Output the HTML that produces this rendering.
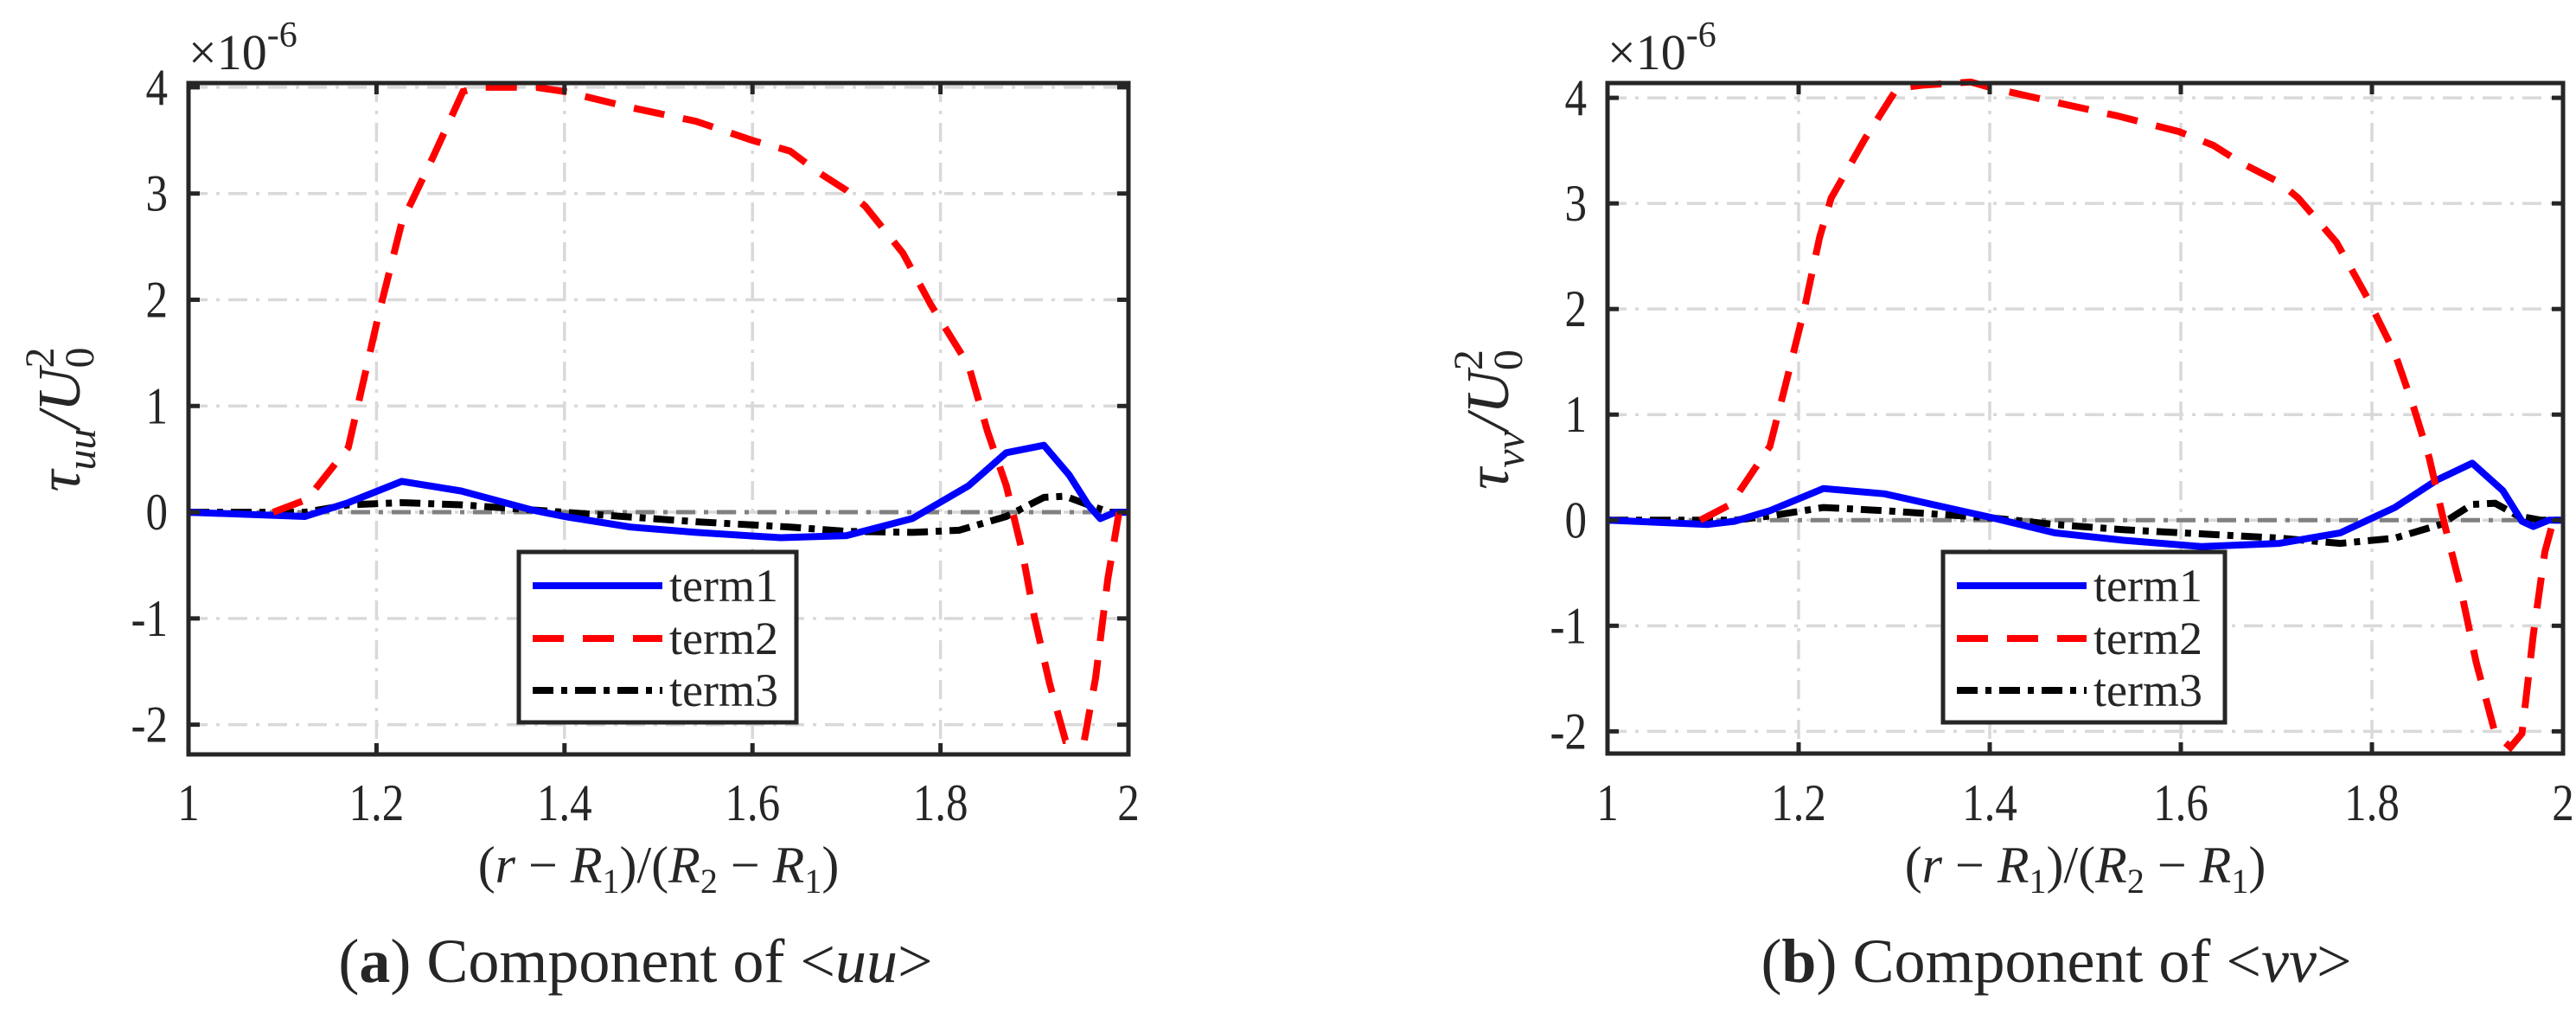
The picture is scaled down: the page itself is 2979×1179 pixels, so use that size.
<!DOCTYPE html>
<html><head><meta charset="utf-8">
<style>
html,body{margin:0;padding:0;background:#fff;}
svg{display:block;}
text{font-family:"Liberation Serif",serif;fill:#262626;}
</style></head>
<body>
<svg id="fig" width="2979" height="1179" viewBox="0 0 2979 1179" xmlns="http://www.w3.org/2000/svg"></svg>
<script>
const xTicks=[1,1.2,1.4,1.6,1.8,2];
const xTickLabels=["1","1.2","1.4","1.6","1.8","2"];
const yTicks=[-2,-1,0,1,2,3,4];
const yTickLabels=["-2","-1","0","1","2","3","4"];
const legendLabels=["term1","term2","term3"];

const aT1x=[1.0,1.124,1.17,1.227,1.29,1.366,1.40,1.47,1.54,1.63,1.70,1.77,1.83,1.87,1.91,1.937,1.957,1.97,1.986,2.0];
const aT1y=[0,-0.04,0.09,0.29,0.2,0.02,-0.04,-0.14,-0.19,-0.24,-0.22,-0.06,0.25,0.56,0.63,0.35,0.07,-0.06,0,0];
const aT2x=[1.09,1.126,1.17,1.202,1.227,1.26,1.292,1.31,1.37,1.40,1.47,1.54,1.60,1.64,1.67,1.70,1.72,1.76,1.79,1.83,1.85,1.87,1.887,1.90,1.916,1.933,1.953,1.965,1.978,1.99];
const aT2y=[0,0.12,0.61,1.85,2.73,3.34,3.96,4.0,4.0,3.96,3.81,3.68,3.5,3.4,3.2,3.03,2.88,2.44,1.95,1.38,0.76,0.25,-0.37,-0.99,-1.61,-2.15,-2.15,-1.56,-0.63,0];
const aT3x=[1,1.124,1.17,1.227,1.29,1.40,1.54,1.64,1.70,1.77,1.82,1.87,1.91,1.933,1.957,1.98,2];
const aT3y=[0,0,0.07,0.09,0.07,0,-0.09,-0.14,-0.18,-0.19,-0.17,-0.04,0.14,0.15,0.07,0,0];

const bT1x=[1,1.105,1.133,1.17,1.226,1.29,1.404,1.468,1.54,1.622,1.703,1.767,1.824,1.868,1.905,1.937,1.957,1.969,1.985,2];
const bT1y=[0,-0.04,-0.01,0.09,0.3,0.25,0.02,-0.12,-0.19,-0.25,-0.22,-0.12,0.12,0.38,0.54,0.28,-0.01,-0.06,0,0];
const bT2x=[1.097,1.129,1.17,1.186,1.206,1.222,1.234,1.27,1.303,1.33,1.38,1.404,1.468,1.533,1.598,1.634,1.662,1.703,1.723,1.763,1.795,1.824,1.844,1.86,1.876,1.892,1.909,1.929,1.945,1.957,1.969,1.981,1.99];
const bT2y=[0,0.15,0.7,1.27,2.0,2.68,3.05,3.62,4.09,4.12,4.15,4.09,3.96,3.83,3.68,3.55,3.39,3.2,3.05,2.63,2.11,1.58,1.06,0.59,-0.04,-0.61,-1.34,-2.02,-2.15,-2.02,-1.08,-0.3,0];
const bT3x=[1,1.133,1.17,1.226,1.29,1.404,1.468,1.54,1.622,1.703,1.767,1.824,1.872,1.905,1.929,1.953,1.977,2];
const bT3y=[0,0,0.04,0.12,0.09,0.02,-0.04,-0.09,-0.13,-0.17,-0.22,-0.17,-0.04,0.15,0.16,0.04,0,0];

const NS="http://www.w3.org/2000/svg";
const svg=document.getElementById('fig');
function mk(tag,attrs,parent){const e=document.createElementNS(NS,tag);for(const k in attrs)e.setAttribute(k,attrs[k]);(parent||svg).appendChild(e);return e;}

function panel(cfg){
  const g=mk('g',{});
  
  
  const L=cfg.L,R=cfg.R,T=cfg.T,B=cfg.B;
  const sx=v=>L+(v-1)*(R-L);
  const sy=v=>T+(cfg.ymax-v)/(cfg.ymax-cfg.ymin)*(B-T);
  xTicks.forEach((t,i)=>{
    if(i>0&&i<xTicks.length-1){
      const l=mk('line',{x1:sx(t),x2:sx(t),y1:T,y2:B,stroke:'#d9d9d9','stroke-width':3.5,'stroke-dasharray':'22 10 4 10'},g);
      
      
    }
  });
  yTicks.forEach(t=>{
    const l=mk('line',{x1:L,x2:R,y1:sy(t),y2:sy(t),stroke:'#d9d9d9','stroke-width':3.5,'stroke-dasharray':'22 10 4 10'},g);
    
    
  });
  const z=mk('line',{x1:L,x2:R,y1:sy(0),y2:sy(0),stroke:'#808080','stroke-width':5,'stroke-dasharray':'22 10 5 10'},g);
  
  
  const path=(xs,ys)=>xs.map((x,i)=>(i?'L':'M')+sx(x).toFixed(1)+','+sy(ys[i]).toFixed(1)).join('');
  const s3=mk('path',{d:path(cfg.t3x,cfg.t3y),fill:'none',stroke:'#000','stroke-width':8,'stroke-dasharray':'24 9 7 9'},g);
  
  
  const s1=mk('path',{d:path(cfg.t1x,cfg.t1y),fill:'none',stroke:'#0000ff','stroke-width':8,'stroke-linejoin':'round'},g);
  
  
  const s2=mk('path',{d:path(cfg.t2x,cfg.t2y),fill:'none',stroke:'#ff0000','stroke-width':8,'stroke-dasharray':'36 22'},g);
  
  
  xTicks.forEach((t,i)=>{
    mk('line',{x1:sx(t),x2:sx(t),y1:B,y2:B-13,stroke:'#262626','stroke-width':5},g);
    mk('line',{x1:sx(t),x2:sx(t),y1:T,y2:T+13,stroke:'#262626','stroke-width':5},g);
    const tx=mk('text',{transform:`translate(${sx(t)},948) scale(0.85,1)`,'font-size':60,'text-anchor':'middle'},g);
    tx.textContent=xTickLabels[i];
    
    
  });
  yTicks.forEach((t,i)=>{
    mk('line',{x1:L,x2:L+13,y1:sy(t),y2:sy(t),stroke:'#262626','stroke-width':5},g);
    mk('line',{x1:R,x2:R-13,y1:sy(t),y2:sy(t),stroke:'#262626','stroke-width':5},g);
    const tx=mk('text',{transform:`translate(${L-24},${sy(t)+20}) scale(0.85,1)`,'font-size':60,'text-anchor':'end'},g);
    tx.textContent=yTickLabels[i];
    
    
  });
  const box=mk('rect',{x:L,y:T,width:R-L,height:B-T,fill:'none',stroke:'#262626','stroke-width':5},g);
  
  
  const ex=mk('text',{x:L,y:80,'font-size':58},g);
  ex.innerHTML='×10<tspan dy="-26" font-size="42">-6</tspan>';
  
  
  const yl=mk('text',{transform:`translate(${cfg.ylx},485) rotate(-90)`,'font-size':70,'text-anchor':'middle','font-style':'italic'},g);
  yl.innerHTML=`τ<tspan dy="18" font-size="48">${cfg.sub}</tspan><tspan dy="-18">/U</tspan><tspan dy="16" font-size="48" font-style="normal">0</tspan><tspan dy="-46" dx="-24" font-size="48" font-style="normal">2</tspan>`;
  
  
  const xl=mk('text',{x:(L+R)/2,y:1020,'font-size':60,'text-anchor':'middle'},g);
  xl.innerHTML='(<tspan font-style="italic">r</tspan> − <tspan font-style="italic">R</tspan><tspan dy="12" font-size="40">1</tspan><tspan dy="-12">)/(</tspan><tspan font-style="italic">R</tspan><tspan dy="12" font-size="40">2</tspan><tspan dy="-12"> − </tspan><tspan font-style="italic">R</tspan><tspan dy="12" font-size="40">1</tspan><tspan dy="-12">)</tspan>';
  
  
  const lg=mk('g',{},g);
  
  
  mk('rect',{x:cfg.lgx,y:638,width:cfg.lgw,height:197,fill:'#fff',stroke:'#262626','stroke-width':5},lg);
  const styles=[{stroke:'#0000ff'},{stroke:'#ff0000','stroke-dasharray':'36 22'},{stroke:'#000','stroke-dasharray':'24 9 7 9'}];
  const ys=[677,738,798];
  legendLabels.forEach((lab,i)=>{
    const a=Object.assign({x1:cfg.lgx+16,x2:cfg.lgx+166,y1:ys[i],y2:ys[i],'stroke-width':8},styles[i]);
    const ln=mk('line',a,lg);
    
    
    const t=mk('text',{x:cfg.lgx+174,y:ys[i]+18,'font-size':54},lg);
    t.textContent=lab;
    
    
  });
  const cp=mk('text',{x:cfg.capx,y:1135,'font-size':72,'text-anchor':'middle'},g);
  cp.innerHTML=`(<tspan font-weight="bold">${cfg.letter}</tspan>) Component of &lt;<tspan font-style="italic">${cfg.sub}</tspan>&gt;`;
  
  
}

panel({name:'panel-uu',L:218,R:1305,T:96,B:872,ymax:4.04,ymin:-2.28,t1x:aT1x,t1y:aT1y,t2x:aT2x,t2y:aT2y,t3x:aT3x,t3y:aT3y,ylx:92,sub:'uu',lgx:600,lgw:321,capx:735,letter:'a'});
panel({name:'panel-vv',L:1859,R:2964,T:96,B:871,ymax:4.14,ymin:-2.21,t1x:bT1x,t1y:bT1y,t2x:bT2x,t2y:bT2y,t3x:bT3x,t3y:bT3y,ylx:1744,sub:'vv',lgx:2247,lgw:326,capx:2378,letter:'b'});
</script>
</body></html>
